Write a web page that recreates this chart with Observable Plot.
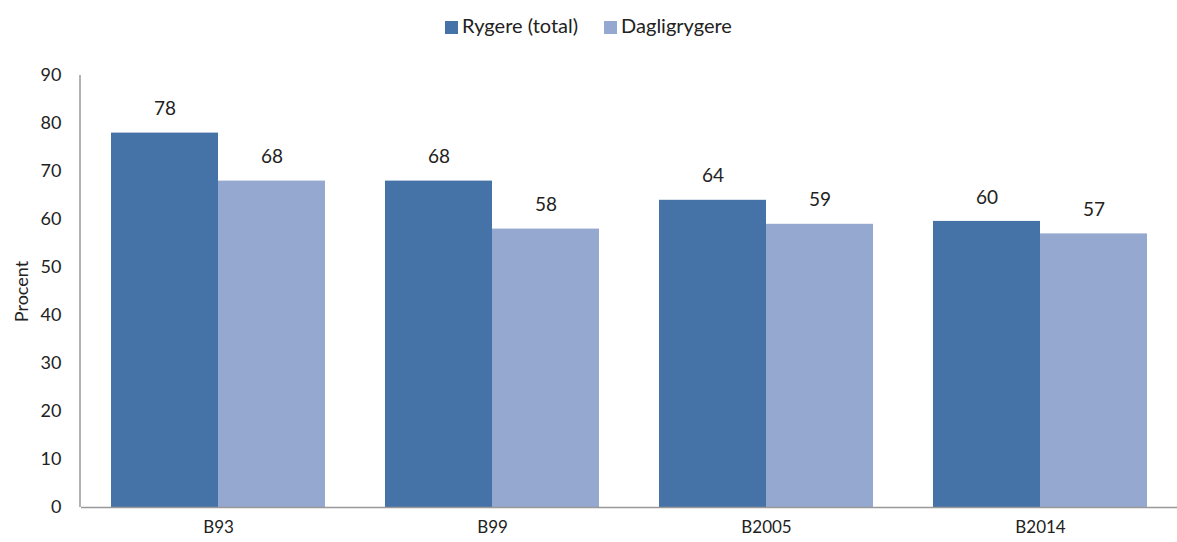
<!DOCTYPE html>
<html>
<head>
<meta charset="utf-8">
<script src="https://cdn.jsdelivr.net/npm/d3@7"></script>
<script src="https://cdn.jsdelivr.net/npm/@observablehq/plot@0.6"></script>
<style>
  body { margin: 0; background: #fff; font-family: Lato, "Open Sans", sans-serif; }
  #legend { height: 50px; box-sizing: border-box; padding-top: 13px; display: flex; justify-content: center; gap: 26px; font-size: 20px; color: #222; line-height: 24px; }
  #legend span.sw { display: inline-block; width: 13px; height: 13px; margin-right: 4px; vertical-align: -1px; }
</style>
</head>
<body>
<div id="legend"></div>
<div id="chart"></div>
<script>
const groups = ["B93", "B99", "B2005", "B2014"];
const seriesNames = ["Rygere (total)", "Dagligrygere"];
const rygereTotal = [78, 68, 64, 59.6];
const dagligrygere = [68, 58, 59, 57];
const colors = ["#4572a7", "#95a9d0"];
const yTicks = [0, 10, 20, 30, 40, 50, 60, 70, 80, 90];

const data = [];
groups.forEach((g, i) => {
  data.push({group: g, series: seriesNames[0], value: rygereTotal[i]});
  data.push({group: g, series: seriesNames[1], value: dagligrygere[i]});
});

const legend = document.getElementById("legend");
seriesNames.forEach((s, i) => {
  const d = document.createElement("div");
  d.innerHTML = `<span class="sw" style="background:${colors[i]}"></span>${s}`;
  legend.appendChild(d);
});

const plot = Plot.plot({
  width: 1177,
  height: 490,
  marginLeft: 80,
  marginRight: 0,
  marginTop: 25,
  marginBottom: 33,
  style: {fontFamily: "Lato, 'Open Sans', sans-serif", color: "#222", background: "#fff", overflow: "visible"},
  fx: {domain: groups, padding: 0, label: null},
  x: {domain: seriesNames, paddingInner: 0, paddingOuter: 0.27, axis: null},
  y: {domain: [0, 90], ticks: yTicks, label: null},
  color: {domain: seriesNames, range: colors},
  marks: [
    Plot.axisFx({anchor: "bottom", tickSize: 0, tickPadding: 13, fontSize: 17, label: null}),
    Plot.axisY({ticks: yTicks, tickSize: 0, tickPadding: 20, fontSize: 18, label: "Procent", labelAnchor: "center", labelOffset: 66, labelArrow: "none"}),
    Plot.barY(data, {fx: "group", x: "series", y: "value", fill: "series", inset: 0}),
    Plot.ruleY([0], {stroke: "#999", strokeWidth: 1.5}),
    Plot.text(data, {fx: "group", x: "series", y: "value", text: d => Math.round(d.value).toString(), dy: -24, fontSize: 19, fill: "#222"})
  ]
});

// y axis line drawn through the plot's own y scale
const ys = plot.scale("y");
d3.select(plot).append("line")
  .attr("x1", 80).attr("x2", 80)
  .attr("y1", ys.apply(0)).attr("y2", ys.apply(90))
  .attr("stroke", "#999").attr("stroke-width", 1.5);

document.getElementById("chart").appendChild(plot);
</script>
</body>
</html>
